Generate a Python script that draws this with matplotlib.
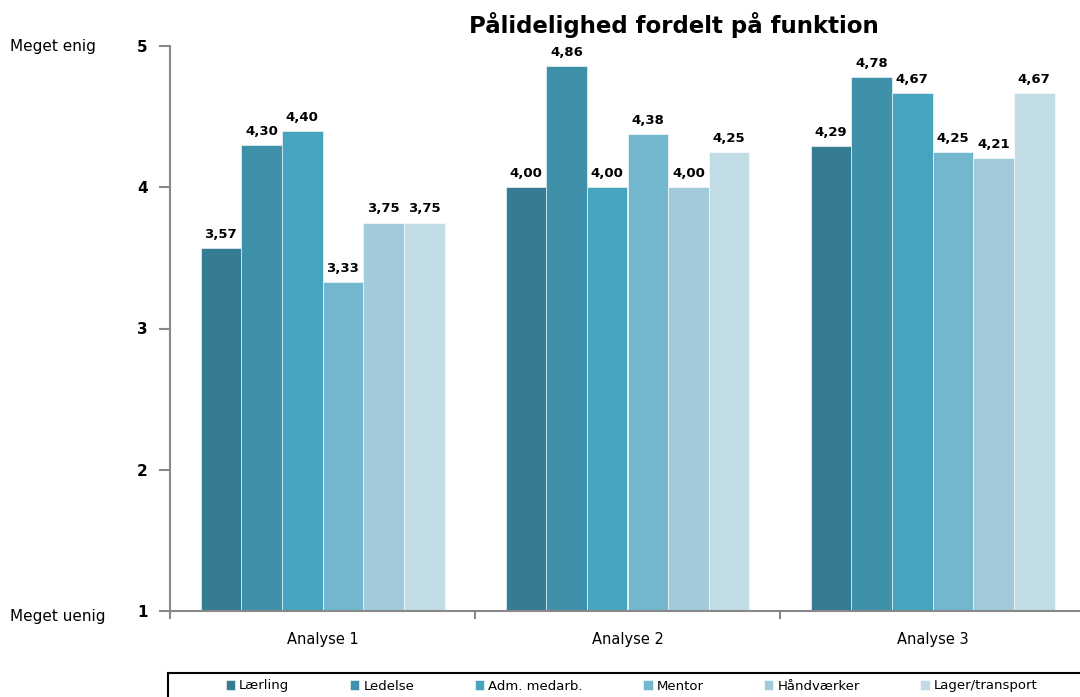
import matplotlib.pyplot as plt
from matplotlib.patches import Rectangle
import numpy as np

# Data
categories = ['Analyse 1', 'Analyse 2', 'Analyse 3']
series = ['Lærling', 'Ledelse', 'Adm. medarb.', 'Mentor', 'Håndværker', 'Lager/transport']
values = {
    'Lærling':         [3.57, 4.00, 4.29],
    'Ledelse':         [4.30, 4.86, 4.78],
    'Adm. medarb.':    [4.40, 4.00, 4.67],
    'Mentor':          [3.33, 4.38, 4.25],
    'Håndværker':      [3.75, 4.00, 4.21],
    'Lager/transport': [3.75, 4.25, 4.67],
}
colors = ['#357B91', '#3F91A9', '#46A4BE', '#72B7CD', '#A1CADB', '#C2DCE5']

W, H = 1080, 697
fig = plt.figure(figsize=(W / 100, H / 100), dpi=100)
ax = fig.add_axes([170 / W, 1 - 611 / H, 915 / W, 565 / H])

x = np.arange(len(categories))
width = 0.8 / len(series)
for i, name in enumerate(series):
    pos = x - 0.4 + width * (i + 0.5)
    vals = values[name]
    ax.bar(pos, [v - 1 for v in vals], width, bottom=1, color=colors[i],
           edgecolor='white', linewidth=0.4, label=name)
    for p, v in zip(pos, vals):
        ax.text(p, v + 0.05, f'{v:.2f}'.replace('.', ','), ha='center', va='bottom',
                fontsize=9.5, fontweight='bold')

ax.set_xlim(-0.5, 2.5)
ax.set_ylim(1, 5)
ax.set_yticks([1, 2, 3, 4, 5])
ax.set_yticklabels(['1', '2', '3', '4', '5'], fontweight='bold', fontsize=11)
ax.set_xticks(x)
ax.set_xticklabels(categories, fontsize=10.5)
ax.set_xticks([-0.5, 0.5, 1.5, 2.5], minor=True)
ax.tick_params(axis='x', which='major', length=0, pad=15)
ax.tick_params(axis='x', which='minor', length=6, color='#888888', width=1.5)
ax.tick_params(axis='y', length=8, color='#888888', width=1.5, pad=8)

for s in ['top', 'right']:
    ax.spines[s].set_visible(False)
for s in ['left', 'bottom']:
    ax.spines[s].set_color('#888888')
    ax.spines[s].set_linewidth(1.5)

fig.text(10 / W, 1 - 46 / H, 'Meget enig', fontsize=11, va='center')
fig.text(10 / W, 1 - 617 / H, 'Meget uenig', fontsize=11, va='center')
fig.text(674 / W, 1 - 25 / H, 'Pålidelighed fordelt på funktion', ha='center',
         va='center', fontsize=16.5, fontweight='bold')

# legend box running off the bottom/right edge
fig.patches.append(Rectangle((168 / W, -10 / H), 930 / W, 34 / H, transform=fig.transFigure,
                             fill=False, edgecolor='black', linewidth=1.5))
fig.legend(loc='center left', bbox_to_anchor=(226 / W, 1 - 686 / H),
           ncol=6, fontsize=9.5, frameon=False,
           handlelength=0.7, handleheight=0.7, handletextpad=0.3,
           columnspacing=4.6, borderaxespad=0, borderpad=0)

plt.savefig('out.png', dpi=100)
